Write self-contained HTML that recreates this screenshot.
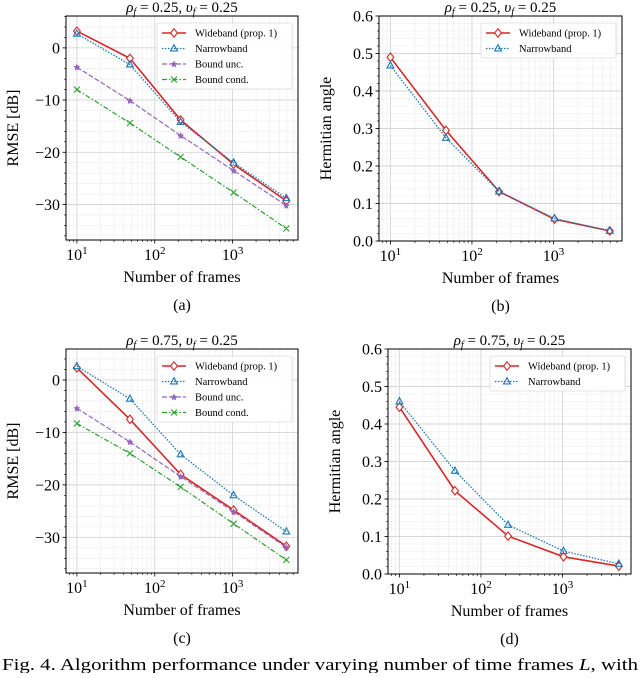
<!DOCTYPE html>
<html><head><meta charset="utf-8"><style>
body{margin:0;background:#fff;}
svg text{font-family:"Liberation Serif",serif;}
</style></head><body>
<svg id="fig" width="640" height="673" viewBox="0 0 640 673" xmlns="http://www.w3.org/2000/svg"></svg>
<script>
const frames = [10, 48, 215, 1030, 4900];
const aWide = [3.2, -2.0, -13.8, -22.3, -29.3];
const aNarrow = [2.7, -3.2, -14.2, -22.0, -28.8];
const aUnc = [-3.7, -10.1, -16.8, -23.5, -30.2];
const aCond = [-8.0, -14.4, -20.9, -27.7, -34.6];
const cWide = [2.3, -7.5, -18.0, -24.8, -31.7];
const cNarrow = [2.6, -3.6, -14.2, -22.0, -28.9];
const cUnc = [-5.4, -11.8, -18.4, -25.1, -31.9];
const cCond = [-8.3, -14.0, -20.4, -27.4, -34.3];
const bWide = [0.49, 0.295, 0.132, 0.058, 0.027];
const bNarrow = [0.468, 0.275, 0.132, 0.060, 0.027];
const dWide = [0.445, 0.222, 0.101, 0.046, 0.021];
const dNarrow = [0.460, 0.275, 0.131, 0.061, 0.027];
const rmseTicks = [0, -10, -20, -30];
const angleTicks = [0, 0.1, 0.2, 0.3, 0.4, 0.5, 0.6];
const xTickExps = [1, 2, 3];

const NS = "http://www.w3.org/2000/svg";
const svg = document.getElementById('fig');
function mk(tag, attrs, parent, name) {
  const e = document.createElementNS(NS, tag);
  for (const k in attrs) e.setAttribute(k, attrs[k]);
  
  
  (parent || svg).appendChild(e);
  return e;
}
const styles = {
  wide: {c: '#d62728', dash: '', m: 'diamond', w: 1.6},
  narrow: {c: '#1f77b4', dash: '1.5,1.5', m: 'tri', w: 1.3},
  unc: {c: '#9467bd', dash: '5,2', m: 'star', w: 1.2},
  cond: {c: '#2ca02c', dash: '5,2,1.5,2', m: 'x', w: 1.2}
};
function marker(g, type, x, y, c, name) {
  if (type === 'diamond') mk('path', {d: `M${x},${y-4.2}L${x+3.4},${y}L${x},${y+4.2}L${x-3.4},${y}Z`, fill: '#fff', stroke: c, 'stroke-width': 1.1}, g, name);
  else if (type === 'tri') mk('path', {d: `M${x},${y-3.8}L${x+3.4},${y+2.4}L${x-3.4},${y+2.4}Z`, fill: 'none', stroke: c, 'stroke-width': 1.1}, g, name);
  else if (type === 'star') mk('path', {d: `M${x},${y-3}L${x+1},${y-1}L${x+3},${y-0.6}L${x+1.4},${y+0.9}L${x+1.8},${y+3}L${x},${y+1.9}L${x-1.8},${y+3}L${x-1.4},${y+0.9}L${x-3},${y-0.6}L${x-1},${y-1}Z`, fill: c, stroke: c, 'stroke-width': 0.5}, g, name);
  else mk('path', {d: `M${x-3},${y-3}L${x+3},${y+3}M${x-3},${y+3}L${x+3},${y-3}`, stroke: c, 'stroke-width': 1.1, fill: 'none'}, g, name);
}
function panel(o) {
  const g = mk('g', {}, svg, o.name);
  const {x0, x1, y0, y1, ymin, ymax} = o;
  const lx0 = 0.86, lx1 = 3.84;
  const X = v => x0 + (Math.log10(v) - lx0) / (lx1 - lx0) * (x1 - x0);
  const Y = v => y1 - (v - ymin) / (ymax - ymin) * (y1 - y0);
  for (let e = 0; e <= 3; e++) for (let k = 2; k <= 9; k++) {
    const v = k * Math.pow(10, e); const lv = Math.log10(v);
    if (lv <= lx0 || lv >= lx1) continue;
    mk('line', {x1: X(v), x2: X(v), y1: y0, y2: y1, stroke: '#ececec', 'stroke-width': 0.6}, g, 'x-minor-grid');
    mk('line', {x1: X(v), x2: X(v), y1: y1, y2: y1 + 2, stroke: '#000', 'stroke-width': 0.6}, g, 'x-minor-tick');
  }
  for (let v = o.minStart; v <= ymax; v += o.minStep) {
    const yy = Y(v); if (yy < y0 || yy > y1) continue;
    mk('line', {x1: x0, x2: x1, y1: yy, y2: yy, stroke: '#ececec', 'stroke-width': 0.6}, g, 'y-minor-grid');
    mk('line', {x1: x0 - 2, x2: x0, y1: yy, y2: yy, stroke: '#000', 'stroke-width': 0.6}, g, 'y-minor-tick');
  }
  xTickExps.forEach(e => {
    const xx = X(Math.pow(10, e));
    mk('line', {x1: xx, x2: xx, y1: y0, y2: y1, stroke: '#d6d6d6', 'stroke-width': 0.9}, g, 'x-major-grid');
    mk('line', {x1: xx, x2: xx, y1: y1, y2: y1 + 3.5, stroke: '#000', 'stroke-width': 0.8}, g, 'x-tick');
    const t = mk('text', {x: xx, y: y1 + 20, 'text-anchor': 'middle', 'font-size': 16}, g, 'x-tick-label');
    t.textContent = '10';
    const s = mk('tspan', {dy: -6, 'font-size': 11}, t, 'x-tick-exponent'); s.textContent = e;
  });
  o.ticks.forEach(v => {
    const yy = Y(v);
    mk('line', {x1: x0, x2: x1, y1: yy, y2: yy, stroke: '#d6d6d6', 'stroke-width': 0.9}, g, 'y-major-grid');
    mk('line', {x1: x0 - 3.5, x2: x0, y1: yy, y2: yy, stroke: '#000', 'stroke-width': 0.8}, g, 'y-tick');
    const t = mk('text', {x: x0 - 6, y: yy + 5.5, 'text-anchor': 'end', 'font-size': 16}, g, 'y-tick-label');
    t.textContent = o.fmt(v);
  });
  mk('rect', {x: x0, y: y0, width: x1 - x0, height: y1 - y0, fill: 'none', stroke: '#000', 'stroke-width': 1}, g, 'axes-frame');
  o.series.forEach(s => {
    const st = styles[s.k];
    const pts = frames.map((f, i) => X(f).toFixed(1) + ',' + Y(s.v[i]).toFixed(1)).join(' ');
    mk('polyline', {points: pts, fill: 'none', stroke: st.c, 'stroke-width': st.w, 'stroke-dasharray': st.dash}, g, s.k + '-line');
    frames.forEach((f, i) => marker(g, st.m, X(f), Y(s.v[i]), st.c, s.k + '-point'));
  });
  const lg = mk('g', {}, g, 'legend');
  const lw = 135, lh = o.series.length * 15.5 + 4;
  const lxp = x1 - 6 - lw, lyp = y0 + 7;
  mk('rect', {x: lxp, y: lyp, width: lw, height: lh, rx: 2, fill: '#fff', 'fill-opacity': 0.85, stroke: '#ddd', 'stroke-width': 0.8}, lg, 'legend-box');
  o.series.forEach((s, i) => {
    const st = styles[s.k]; const yy = lyp + 10 + i * 15.5;
    mk('line', {x1: lxp + 5, x2: lxp + 29, y1: yy, y2: yy, stroke: st.c, 'stroke-width': st.w, 'stroke-dasharray': st.dash}, lg, 'legend-line');
    marker(lg, st.m, lxp + 17, yy, st.c, 'legend-marker');
    const t = mk('text', {x: lxp + 38, y: yy + 3.5, 'font-size': 10.5}, lg, 'legend-entry');
    t.textContent = s.label;
  });
  const tt = mk('text', {x: (x0 + x1) / 2, y: y0 - 4, 'text-anchor': 'middle', 'font-size': 15}, g, 'panel-title');
  tt.innerHTML = o.title;
  const xl = mk('text', {x: (x0 + x1) / 2, y: y1 + 42, 'text-anchor': 'middle', 'font-size': 16}, g, 'x-axis-title');
  xl.textContent = 'Number of frames';
  const ylx = x0 - 48, yly = (y0 + y1) / 2;
  const yl = mk('text', {x: ylx, y: yly, 'text-anchor': 'middle', 'font-size': 16, transform: `rotate(-90 ${ylx} ${yly})`}, g, 'y-axis-title');
  yl.textContent = o.ylabel;
  const pl = mk('text', {x: (x0 + x1) / 2, y: y1 + 70, 'text-anchor': 'middle', 'font-size': 16}, g, 'panel-label');
  pl.textContent = o.label;
}
const t25 = '<tspan font-style="italic">ρ</tspan><tspan font-size="10" font-style="italic" dy="3">f</tspan><tspan dy="-3"> = 0.25, </tspan><tspan font-style="italic">υ</tspan><tspan font-size="10" font-style="italic" dy="3">f</tspan><tspan dy="-3"> = 0.25</tspan>';
const t75 = t25.replace('0.25, ', '0.75, ');
const rm = v => v < 0 ? '\u2212' + (-v) : '' + v;
const an = v => v.toFixed(1);
const L4 = ['Wideband (prop. 1)', 'Narrowband', 'Bound unc.', 'Bound cond.'];
panel({name: 'panel-a', x0: 66, x1: 298, y0: 16, y1: 240, ymin: -36.8, ymax: 6.1, ticks: rmseTicks, fmt: rm, minStart: -36, minStep: 2, title: t25, ylabel: 'RMSE [dB]', label: '(a)',
  series: [{k: 'wide', v: aWide, label: L4[0]}, {k: 'narrow', v: aNarrow, label: L4[1]}, {k: 'unc', v: aUnc, label: L4[2]}, {k: 'cond', v: aCond, label: L4[3]}]});
panel({name: 'panel-b', x0: 379, x1: 622, y0: 16, y1: 241, ymin: 0, ymax: 0.6, ticks: angleTicks, fmt: an, minStart: 0, minStep: 0.02, title: t25, ylabel: 'Hermitian angle', label: '(b)',
  series: [{k: 'wide', v: bWide, label: L4[0]}, {k: 'narrow', v: bNarrow, label: L4[1]}]});
panel({name: 'panel-c', x0: 66, x1: 298, y0: 349, y1: 573, ymin: -36.8, ymax: 5.9, ticks: rmseTicks, fmt: rm, minStart: -36, minStep: 2, title: t75, ylabel: 'RMSE [dB]', label: '(c)',
  series: [{k: 'wide', v: cWide, label: L4[0]}, {k: 'narrow', v: cNarrow, label: L4[1]}, {k: 'unc', v: cUnc, label: L4[2]}, {k: 'cond', v: cCond, label: L4[3]}]});
panel({name: 'panel-d', x0: 388, x1: 631, y0: 349, y1: 574, ymin: 0, ymax: 0.6, ticks: angleTicks, fmt: an, minStart: 0, minStep: 0.02, title: t75, ylabel: 'Hermitian angle', label: '(d)',
  series: [{k: 'wide', v: dWide, label: L4[0]}, {k: 'narrow', v: dNarrow, label: L4[1]}]});
const cap = mk('text', {x: 2, y: 670, 'font-size': 16.5, textLength: 636, lengthAdjust: 'spacingAndGlyphs'}, svg, 'figure-caption');
cap.innerHTML = 'Fig. 4.  Algorithm performance under varying number of time frames <tspan font-style="italic">L</tspan>, with';
</script>
</body></html>
